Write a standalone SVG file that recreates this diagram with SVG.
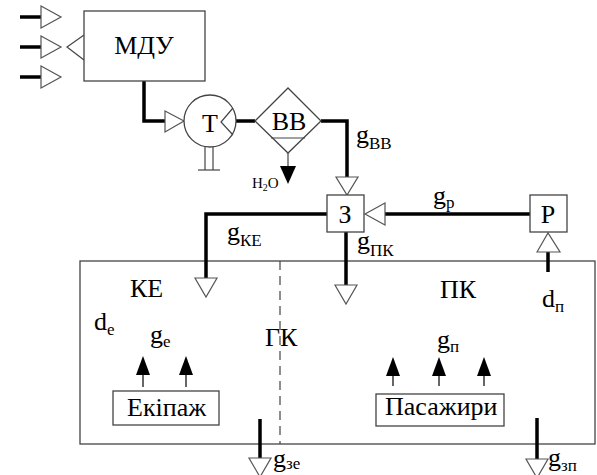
<svg xmlns="http://www.w3.org/2000/svg" width="597" height="475" viewBox="0 0 597 475">
<style>
.box{fill:#fff;stroke:#444;stroke-width:1.3}
.open{fill:none;stroke:#444;stroke-width:1.3}
.thin{fill:none;stroke:#444;stroke-width:1.2}
.thick{fill:none;stroke:#000;stroke-width:3.5}
.tri{fill:#fff;stroke:#555;stroke-width:1.2}
.ftri{fill:#000;stroke:none}
text{font-family:"Liberation Serif","DejaVu Serif","Times New Roman",serif}
.t{font-size:26px;fill:#000}
.s{font-size:17px}
.m{font-size:15px;fill:#000}
</style>
<rect width="597" height="475" fill="#fff"/>

<g id="cabin">
  <rect class="open" x="80" y="261" width="515" height="183"/>
  <line class="thin" x1="280" y1="261" x2="280" y2="444" stroke-dasharray="9,6"/>
  <text class="t" x="130" y="297" font-family="Liberation Serif, serif">КЕ</text>
  <text class="t" x="440" y="298" font-family="Liberation Serif, serif">ПК</text>
  <text class="t" x="265" y="346" font-family="Liberation Serif, serif">ГК</text>
</g>

<g id="connectors">
  <line class="thick" x1="20" y1="17" x2="41" y2="17" stroke-width="3"/>
  <line class="thick" x1="20" y1="47" x2="41" y2="47" stroke-width="4.5"/>
  <line class="thick" x1="20" y1="77" x2="41" y2="77" stroke-width="3"/>
  <polygon class="tri" points="41,6 61,17 41,28"/>
  <polygon class="tri" points="41,36 61,47 41,58"/>
  <polygon class="tri" points="41,66 61,77 41,88"/>
  <polyline class="thin" points="84,35 67,47 84,60"/>
  <polyline class="thick" points="144,81 144,121 165,121"/>
  <polygon class="tri" points="165,111 184,121 165,132"/>
  <line class="thick" x1="236" y1="121" x2="255" y2="121"/>
  <line class="thin" x1="288" y1="153" x2="288" y2="166" stroke="#000"/>
  <polygon class="ftri" points="280,166 296,166 288,184"/>
  <polyline class="thick" points="321,121 347,121 347,177"/>
  <polygon class="tri" points="336,177 358,177 347,195"/>
  <line class="thick" x1="385" y1="214" x2="530" y2="214"/>
  <polygon class="tri" points="385,203 365,214 385,225"/>
  <line class="thick" x1="548" y1="252" x2="548" y2="272"/>
  <polygon class="tri" points="537,252 548,233 560,252"/>
  <polyline class="thick" points="327,214 206,214 206,278"/>
  <polygon class="tri" points="195,278 217,278 206,297"/>
  <line class="thick" x1="346" y1="232" x2="346" y2="285"/>
  <polygon class="tri" points="335,285 357,285 346,304"/>
  <line x1="143" y1="372" x2="143" y2="387" stroke="#000" stroke-width="1.2"/>
  <polygon class="ftri" points="136,375 150,375 143,356"/>
  <line x1="186" y1="372" x2="186" y2="387" stroke="#000" stroke-width="1.2"/>
  <polygon class="ftri" points="179,375 193,375 186,356"/>
  <line x1="393" y1="372" x2="393" y2="386" stroke="#000" stroke-width="1.2"/>
  <polygon class="ftri" points="386,376 400,376 393,357"/>
  <line x1="439" y1="372" x2="439" y2="386" stroke="#000" stroke-width="1.2"/>
  <polygon class="ftri" points="432,376 446,376 439,357"/>
  <line x1="484" y1="372" x2="484" y2="386" stroke="#000" stroke-width="1.2"/>
  <polygon class="ftri" points="477,376 491,376 484,357"/>
  <line class="thick" x1="260" y1="419" x2="260" y2="458"/>
  <polygon class="tri" points="249,458 271,458 260,477"/>
  <line class="thick" x1="537" y1="418" x2="537" y2="459"/>
  <polygon class="tri" points="526,459 548,459 537,478"/>
</g>

<g id="mdu">
  <rect class="box" x="84" y="11" width="121" height="70"/>
  <text class="t" x="144" y="54" text-anchor="middle">МДУ</text>
</g>

<g id="turbine">
  <circle class="box" cx="210" cy="121" r="26"/>
  <polyline class="thin" points="233,108 221,122 233,135"/>
  <line class="thin" x1="205" y1="147" x2="205" y2="170"/>
  <line class="thin" x1="213" y1="147" x2="213" y2="170"/>
  <line class="thin" x1="198" y1="170" x2="220" y2="170"/>
  <text class="t" x="210" y="132" text-anchor="middle">Т</text>
</g>

<g id="bb">
  <polygon class="box" points="255,121 288,88 321,121 288,153"/>
  <line class="thin" x1="271" y1="138" x2="305" y2="138"/>
  <text class="t" x="289" y="130" text-anchor="middle">ВВ</text>
  <text class="m" x="252" y="188">H<tspan font-size="10" dy="3">2</tspan><tspan dy="-3">O</tspan></text>
</g>

<g id="z">
  <rect class="box" x="327" y="195" width="37" height="37"/>
  <text class="t" x="345" y="223" text-anchor="middle">З</text>
</g>

<g id="r">
  <rect class="box" x="530" y="195" width="37" height="37"/>
  <text class="t" x="548" y="223" text-anchor="middle">Р</text>
</g>

<g id="crew">
  <rect class="box" x="113" y="391" width="106" height="34"/>
  <text class="t" x="127" y="416">Екіпаж</text>
</g>

<g id="passengers">
  <rect class="box" x="376" y="394" width="128" height="32"/>
  <text class="t" x="385" y="415">Пасажири</text>
</g>

<g id="labels">
  <text class="t" x="356" y="143">g<tspan class="s" dy="6">ВВ</tspan></text>
  <text class="t" x="433" y="204">g<tspan class="s" dy="4">р</tspan></text>
  <text class="t" x="227" y="240">g<tspan class="s" dy="6">КЕ</tspan></text>
  <text class="t" x="357" y="249">g<tspan class="s" dy="7">ПК</tspan></text>
  <text class="t" x="542" y="307">d<tspan class="s" dy="5">п</tspan></text>
  <text class="t" x="94" y="330">d<tspan class="s" dy="5">е</tspan></text>
  <text class="t" x="150" y="343">g<tspan class="s" dy="4">е</tspan></text>
  <text class="t" x="437" y="348">g<tspan class="s" dy="4">п</tspan></text>
  <text class="t" x="273" y="467">g<tspan class="s" dy="2">зе</tspan></text>
  <text class="t" x="548" y="466">g<tspan class="s" dy="5">зп</tspan></text>
</g>
</svg>
